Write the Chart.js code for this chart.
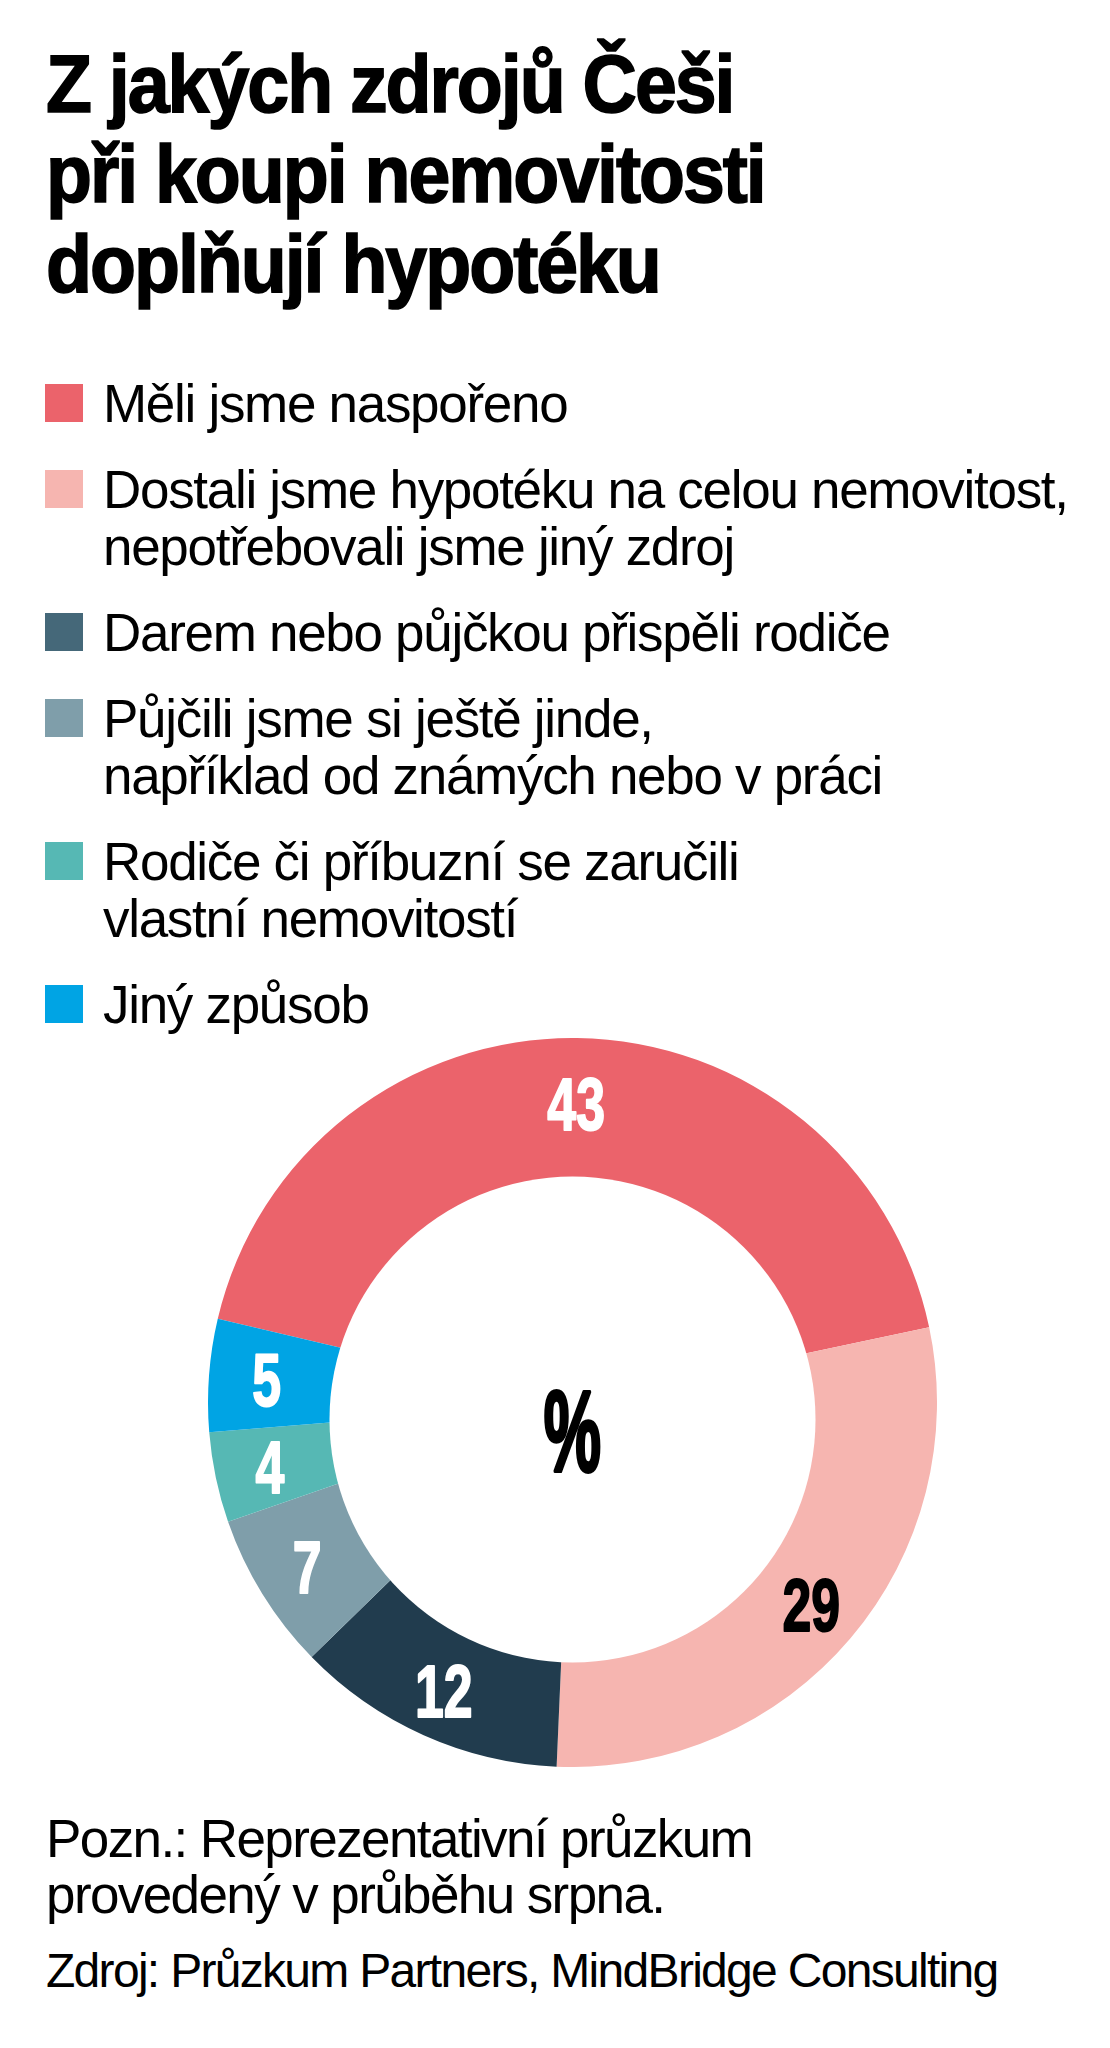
<!DOCTYPE html>
<html lang="cs">
<head>
<meta charset="utf-8">
<script src="https://cdn.jsdelivr.net/npm/chart.js@4.4.1/dist/chart.umd.min.js"></script>
<style>
  html, body { margin: 0; padding: 0; background: #fff; }
  body { width: 1110px; height: 2048px; position: relative; overflow: hidden; font-family: "Liberation Sans", Arial, sans-serif; color: #000; }
  #title { position: absolute; left: 46px; top: 39px; font-weight: bold; font-size: 81px; line-height: 90px; letter-spacing: -2.2px; transform: scaleX(0.93); transform-origin: 0 0; white-space: nowrap; margin: 0; -webkit-text-stroke: 1.6px #000; }
  #legend { position: absolute; left: 45px; top: 375px; margin: 0; padding: 0; list-style: none; }
  #legend li { position: relative; padding-left: 58px; font-size: 53px; line-height: 57px; letter-spacing: -1.3px; margin-bottom: 29px; white-space: nowrap; }
  #legend li .sw { position: absolute; left: 0; top: 9px; width: 38px; height: 38px; }
  #chartBox { position: absolute; left: 208px; top: 1038px; width: 729px; height: 729px; }
  .note { position: absolute; left: 46px; margin: 0; white-space: nowrap; }
  #note1 { top: 1811px; font-size: 53px; line-height: 56px; letter-spacing: -1.6px; }
  #note2 { top: 1943px; font-size: 48px; line-height: 56px; letter-spacing: -1.7px; }
</style>
</head>
<body>
<h1 id="title">Z jakých zdrojů Češi<br>při koupi nemovitosti<br>doplňují hypotéku</h1>
<ul id="legend"></ul>
<div id="chartBox"><canvas id="chart"></canvas></div>
<p class="note" id="note1">Pozn.: Reprezentativní průzkum<br>provedený v průběhu srpna.</p>
<p class="note" id="note2">Zdroj: Průzkum Partners, MindBridge Consulting</p>
<script>
// ---- data ----
const categories = [
  ["Měli jsme naspořeno"],
  ["Dostali jsme hypotéku na celou nemovitost,", "nepotřebovali jsme jiný zdroj"],
  ["Darem nebo půjčkou přispěli rodiče"],
  ["Půjčili jsme si ještě jinde,", "například od známých nebo v práci"],
  ["Rodiče či příbuzní se zaručili", "vlastní nemovitostí"],
  ["Jiný způsob"]
];
const values = [43, 29, 12, 7, 4, 5];
const centerLabel = "%";

// ---- styles ----
const ringColors = ['#EB636B', '#F6B5B0', '#213C4E', '#7F9EAA', '#56B8B4', '#00A4E4'];
const legendColors = ['#EB636B', '#F6B5B0', '#456879', '#7F9EAA', '#56B8B4', '#00A4E4'];
const labelColors = ['#ffffff', '#000000', '#ffffff', '#ffffff', '#ffffff', '#ffffff'];

// legend (HTML)
const ul = document.getElementById('legend');
categories.forEach((lines, i) => {
  const li = document.createElement('li');
  const sw = document.createElement('span');
  sw.className = 'sw';
  sw.style.background = legendColors[i];
  li.appendChild(sw);
  lines.forEach((t, k) => {
    if (k > 0) li.appendChild(document.createElement('br'));
    li.appendChild(document.createTextNode(t));
  });
  ul.appendChild(li);
});

// offset hole + labels
const HOLE_DX = 0, HOLE_DY = 0.0466, HOLE_R = 0.6667, LABEL_SHIFT = 0.011;
const ringPlugin = {
  id: 'ringDecor',
  afterDatasetsDraw(chart) {
    const ctx = chart.ctx;
    const meta = chart.getDatasetMeta(0);
    const first = meta.data[0].getProps(['x', 'y', 'outerRadius'], true);
    const cx = first.x, cy = first.y, R = first.outerRadius;
    const hx = cx + HOLE_DX * R, hy = cy + HOLE_DY * R, hr = HOLE_R * R;
    ctx.save();
    ctx.fillStyle = '#ffffff';
    ctx.beginPath();
    ctx.arc(hx, hy, hr, 0, Math.PI * 2);
    ctx.fill();
    ctx.restore();

    const ox = hx - cx, oy = hy - cy;
    meta.data.forEach((arc, i) => {
      const p = arc.getProps(['startAngle', 'endAngle'], true);
      const a = (p.startAngle + p.endAngle) / 2;
      const ux = Math.cos(a), uy = Math.sin(a);
      const d = ux * ox + uy * oy;
      const tHole = d + Math.sqrt(d * d - (ox * ox + oy * oy) + hr * hr);
      const r = (R + tHole) / 2 + LABEL_SHIFT * R;
      const lx = cx + ux * r, ly = cy + uy * r;
      const fs = 74;
      ctx.save();
      ctx.translate(lx, ly);
      ctx.scale(0.7, 1);
      ctx.font = 'bold ' + fs + 'px "Liberation Sans", Arial, sans-serif';
      ctx.textAlign = 'center';
      ctx.textBaseline = 'alphabetic';
      ctx.fillStyle = labelColors[i];
      ctx.strokeStyle = labelColors[i];
      ctx.lineWidth = 2;
      ctx.lineJoin = 'round';
      ctx.fillText(String(values[i]), 0, 0.716 * fs / 2);
      ctx.strokeText(String(values[i]), 0, 0.716 * fs / 2);
      ctx.restore();
    });

    const pfs = 115;
    ctx.save();
    ctx.translate(hx, hy + 0.03 * R);
    ctx.scale(0.56, 1);
    ctx.font = 'bold ' + pfs + 'px "Liberation Sans", Arial, sans-serif';
    ctx.textAlign = 'center';
    ctx.textBaseline = 'alphabetic';
    ctx.fillStyle = '#000000';
    ctx.strokeStyle = '#000000';
    ctx.lineWidth = 4;
    ctx.lineJoin = 'round';
    ctx.fillText(centerLabel, 0, 0.355 * pfs);
    ctx.strokeText(centerLabel, 0, 0.355 * pfs);
    ctx.restore();
  }
};

new Chart(document.getElementById('chart'), {
  type: 'doughnut',
  data: {
    labels: categories,
    datasets: [{
      data: values,
      backgroundColor: ringColors,
      borderWidth: 0,
      hoverOffset: 0
    }]
  },
  options: {
    responsive: true,
    maintainAspectRatio: false,
    animation: false,
    cutout: '60%',
    rotation: -76.7,
    layout: { padding: 0 },
    events: [],
    plugins: {
      legend: { display: false },
      tooltip: { enabled: false },
      title: { display: false }
    }
  },
  plugins: [ringPlugin]
});
</script>
</body>
</html>
